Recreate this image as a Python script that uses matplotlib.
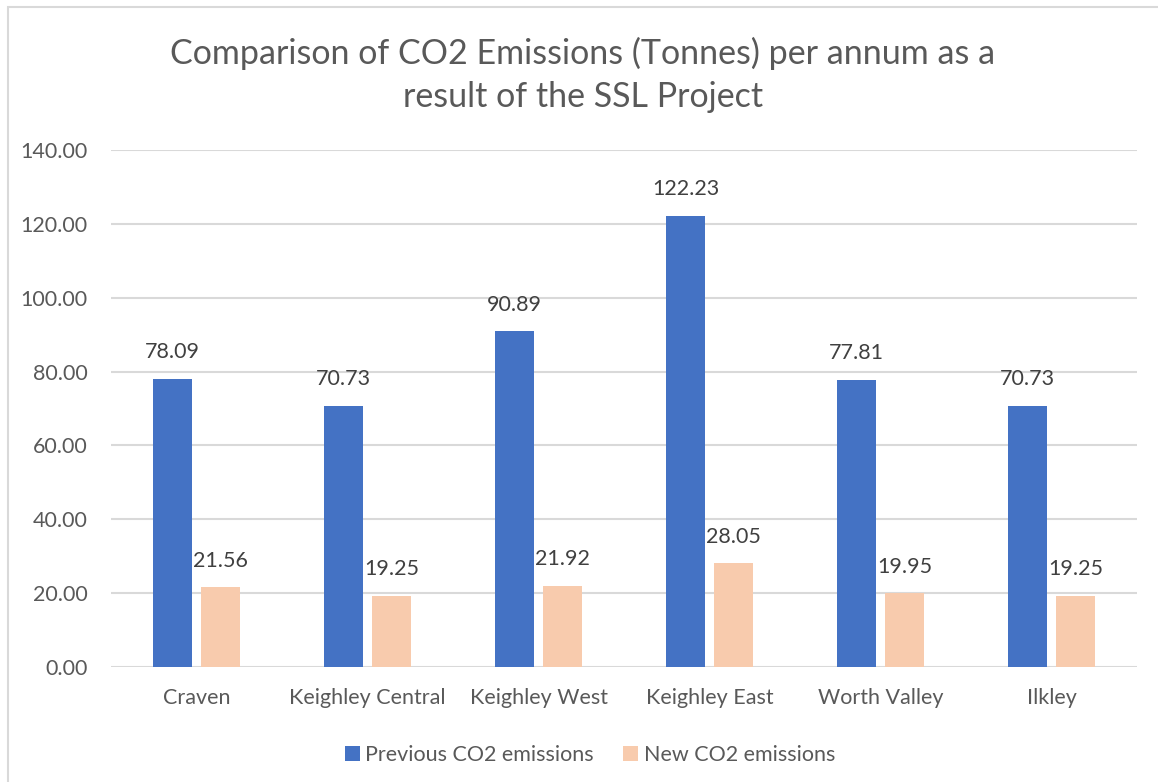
import matplotlib
matplotlib.use("Agg")
import matplotlib.pyplot as plt
import numpy as np
from matplotlib.patches import Rectangle

categories = ["Craven", "Keighley Central", "Keighley West", "Keighley East", "Worth Valley", "Ilkley"]
previous = [78.09, 70.73, 90.89, 122.23, 77.81, 70.73]
new = [21.56, 19.25, 21.92, 28.05, 19.95, 19.25]
series_names = ["Previous CO2 emissions", "New CO2 emissions"]
yticks = [0, 20, 40, 60, 80, 100, 120, 140]

plt.rcParams['font.family'] = ['Lato', 'DejaVu Sans']
txt = '#595959'
lbl = '#404040'
blue = '#4472C4'
peach = '#F8CBAD'

fig = plt.figure(figsize=(11.58, 7.82), dpi=100)
fig.patches.append(Rectangle((8/1158, -0.1), 1.2, 1 - 7/782 + 0.1, transform=fig.transFigure,
                             fill=False, edgecolor='#d9d9d9', linewidth=1.5))
ax = fig.add_axes([111/1158, 1 - 667/782, (1137 - 111)/1158, (667 - 150)/782])

x = np.arange(len(categories))
w = 0.228
off = 0.14
b1 = ax.bar(x - off, previous, w, color=blue, label=series_names[0], zorder=3)
b2 = ax.bar(x + off, new, w, color=peach, label=series_names[1], zorder=3)
for bars, vals in ((b1, previous), (b2, new)):
    for r, v in zip(bars, vals):
        ax.annotate(f"{v:.2f}", (r.get_x() + r.get_width()/2, v), xytext=(0, 12),
                    textcoords='offset points', ha='center', va='bottom', fontsize=15.5, color=lbl)

ax.set_xlim(-0.5, len(categories) - 0.5)
ax.set_ylim(0, 140)
ax.set_yticks(yticks)
ax.set_yticklabels([f"{t:.2f}" for t in yticks], fontsize=15.5, color=txt)
ax.set_xticks(x)
ax.set_xticklabels(categories, fontsize=15.5, color=txt)
ax.tick_params(axis='both', length=0)
ax.tick_params(axis='y', pad=17)
ax.tick_params(axis='x', pad=15)
ax.grid(axis='y', color='#d9d9d9', linewidth=1.5, zorder=0)
for s in ax.spines.values():
    s.set_visible(False)

fig.text(583/1158, 1 - 75/782, "Comparison of CO2 Emissions (Tonnes) per annum as a\nresult of the SSL Project",
         ha='center', va='center', fontsize=24.5, color=txt, linespacing=1.45)

leg = fig.legend(loc='center', bbox_to_anchor=(590/1158, 1 - 755/782), ncol=2, frameon=False,
                 fontsize=15.5, handlelength=0.7, handleheight=0.7, columnspacing=1.35,
                 handletextpad=0.25, borderpad=0, borderaxespad=0)
for t in leg.get_texts():
    t.set_color(txt)

fig.savefig("out.png", dpi=100)
